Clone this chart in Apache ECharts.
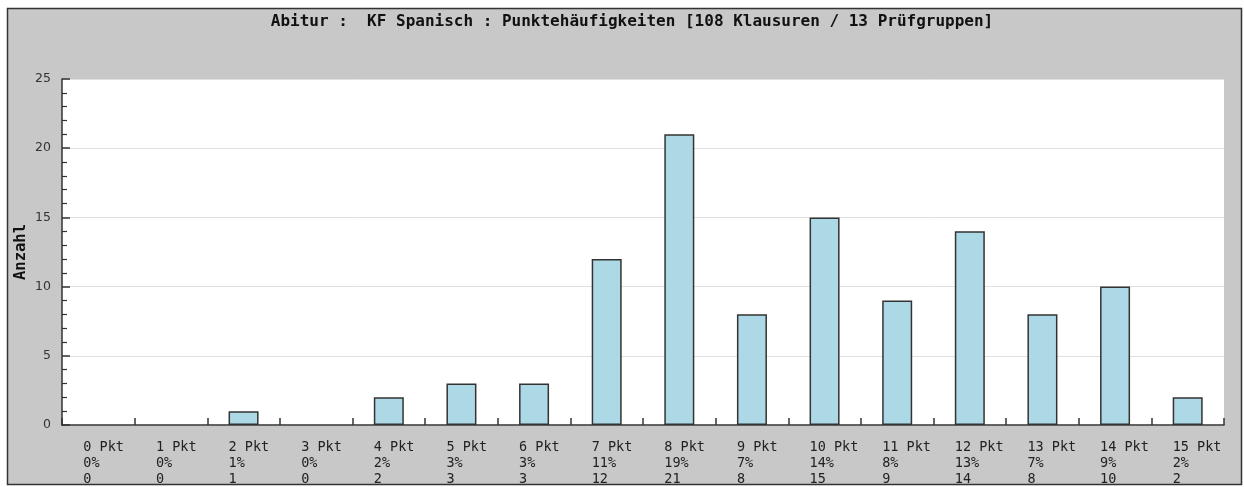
<!DOCTYPE html>
<html>
<head>
<meta charset="utf-8">
<script src="https://cdn.jsdelivr.net/npm/echarts@6/dist/echarts.min.js"></script>
<style>
  html, body { margin: 0; padding: 0; background: #fff; }
  #chart { width: 1244px; height: 487px; }
</style>
</head>
<body>
<div id="chart"></div>
<script>
// Punkte 0..15
const categories = ['0 Pkt', '1 Pkt', '2 Pkt', '3 Pkt', '4 Pkt', '5 Pkt', '6 Pkt', '7 Pkt',
  '8 Pkt', '9 Pkt', '10 Pkt', '11 Pkt', '12 Pkt', '13 Pkt', '14 Pkt', '15 Pkt']
const counts = [0, 0, 1, 0, 2, 3, 3, 12, 21, 8, 15, 9, 14, 8, 10, 2]
const percents = [0, 0, 1, 0, 2, 3, 3, 11, 19, 7, 14, 8, 13, 7, 9, 2]
const titleText = 'Abitur :  KF Spanisch : Punktehäufigkeiten [108 Klausuren / 13 Prüfgruppen]'

const mono = 'DejaVu Sans Mono'
const chart = echarts.init(document.getElementById('chart'))

chart.setOption({
  animation: false,
  backgroundColor: '#fff',
  graphic: [
    {
      type: 'rect',
      z: -10,
      silent: true,
      shape: { x: 7.5, y: 8.5, width: 1234, height: 476 },
      style: { fill: '#c8c8c8', stroke: 'none' }
    },
    {
      // weisser Rand unten schneidet die dritte Zeile ab
      type: 'rect',
      z: 100,
      silent: true,
      shape: { x: 0, y: 485, width: 1244, height: 2 },
      style: { fill: '#fff' }
    },
    {
      type: 'rect',
      z: 101,
      silent: true,
      shape: { x: 7.5, y: 8.5, width: 1234, height: 476 },
      style: { fill: 'none', stroke: '#333', lineWidth: 1.5 }
    }
  ],
  title: {
    text: titleText,
    left: 627,
    top: 9,
    textAlign: 'center',
    textStyle: {
      fontFamily: mono,
      fontWeight: 'bold',
      fontSize: 16,
      color: '#111'
    }
  },
  grid: {
    left: 62,
    top: 79,
    right: 20,
    bottom: 62,
    show: true,
    backgroundColor: '#fff',
    borderWidth: 0
  },
  xAxis: {
    type: 'category',
    data: categories,
    axisLine: { lineStyle: { color: '#333', width: 1.5 } },
    axisTick: { show: true, inside: true, length: 7, lineStyle: { color: '#333', width: 1.5 } },
    axisLabel: {
      interval: 0,
      margin: 14,
      align: 'center',
      formatter: (v, i) => '{a|' + v + '}\n{a|' + percents[i] + '%}\n{a|' + counts[i] + '}',
      rich: {
        a: {
          width: 30,
          align: 'left',
          fontFamily: mono,
          fontSize: 13.5,
          lineHeight: 16,
          color: '#222'
        }
      }
    }
  },
  yAxis: {
    type: 'value',
    min: 0,
    max: 25,
    interval: 5,
    name: 'Anzahl',
    nameLocation: 'middle',
    nameGap: 33,
    nameMoveOverlap: false,
    nameTextStyle: {
      fontFamily: mono,
      fontWeight: 'bold',
      fontSize: 15.5,
      color: '#111'
    },
    axisLine: { show: true, lineStyle: { color: '#333', width: 1.5 } },
    axisTick: { show: true, inside: true, length: 8, lineStyle: { color: '#333', width: 1.5 } },
    minorTick: { show: true, splitNumber: 5, length: 5, lineStyle: { color: '#333', width: 1.2 } },
    splitLine: { lineStyle: { color: '#e0e0e0', width: 1 } },
    axisLabel: {
      margin: 11,
      fontFamily: 'DejaVu Sans',
      fontSize: 12.5,
      color: '#333'
    }
  },
  series: [{
    type: 'bar',
    // Nullwerte ohne Rahmen zeichnen
    data: counts.map(v => (v === 0 ? '-' : v)),
    barWidth: 30,
    itemStyle: {
      color: '#add8e6',
      borderColor: '#333',
      borderWidth: 1.5
    }
  }]
})
</script>
</body>
</html>
